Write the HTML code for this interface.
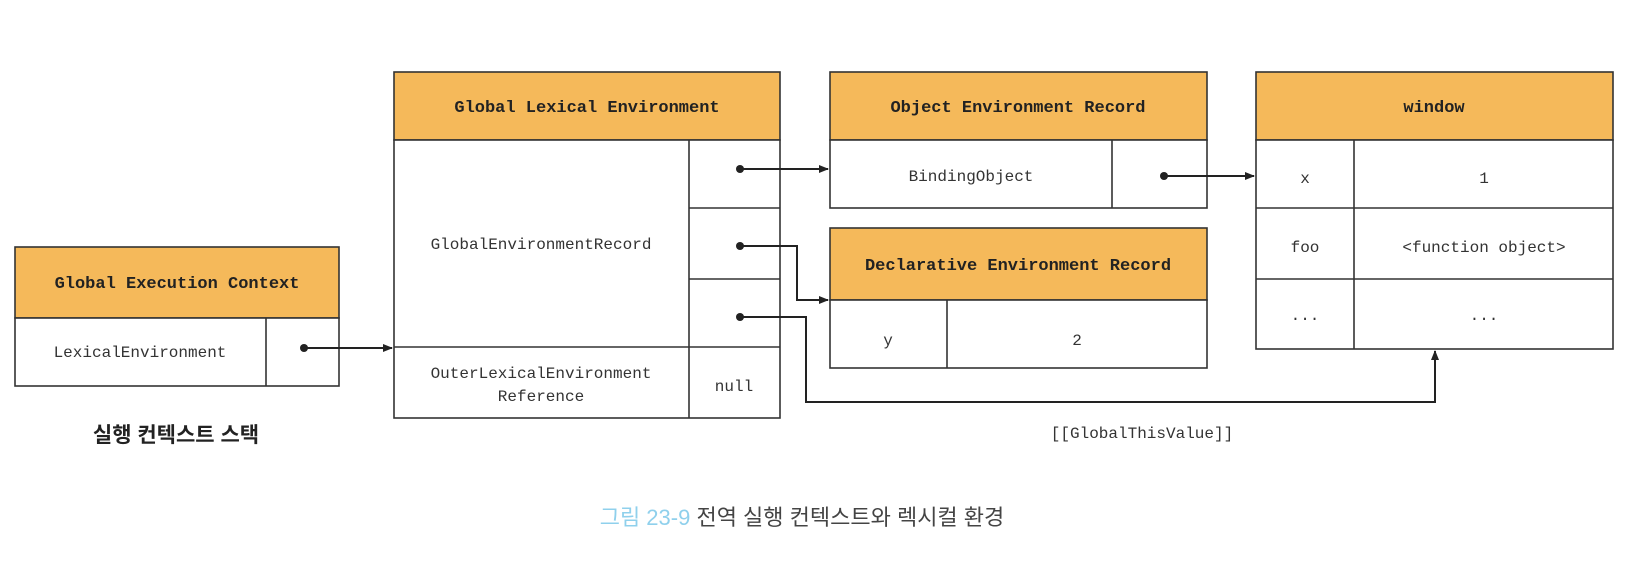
<!DOCTYPE html>
<html><head><meta charset="utf-8"><style>
body{margin:0;background:#fff;width:1650px;height:568px;overflow:hidden;position:relative}
svg{position:absolute;left:0;top:0}
</style></head><body>
<svg width="1650" height="568" xmlns="http://www.w3.org/2000/svg" font-family="'Liberation Mono', monospace" font-size="16" fill="#333">
<defs><marker id="a" markerWidth="10" markerHeight="10" refX="9" refY="5" orient="auto" markerUnits="userSpaceOnUse"><path d="M0,1 L10,5 L0,9 z" fill="#222"/></marker></defs>
<g stroke="#333" stroke-width="1.6">
<!-- GEC -->
<rect x="15" y="247" width="324" height="71" fill="#f5b95a"/>
<rect x="15" y="318" width="324" height="68" fill="#fff"/>
<line x1="266" y1="318" x2="266" y2="386"/>
<!-- GLE -->
<rect x="394" y="72" width="386" height="68" fill="#f5b95a"/>
<rect x="394" y="140" width="386" height="278" fill="#fff"/>
<line x1="689" y1="140" x2="689" y2="418"/>
<line x1="689" y1="208" x2="780" y2="208"/>
<line x1="689" y1="279" x2="780" y2="279"/>
<line x1="394" y1="347" x2="780" y2="347"/>
<!-- OER -->
<rect x="830" y="72" width="377" height="68" fill="#f5b95a"/>
<rect x="830" y="140" width="377" height="68" fill="#fff"/>
<line x1="1112" y1="140" x2="1112" y2="208"/>
<!-- DER -->
<rect x="830" y="228" width="377" height="72" fill="#f5b95a"/>
<rect x="830" y="300" width="377" height="68" fill="#fff"/>
<line x1="947" y1="300" x2="947" y2="368"/>
<!-- window -->
<rect x="1256" y="72" width="357" height="68" fill="#f5b95a"/>
<rect x="1256" y="140" width="357" height="209" fill="#fff"/>
<line x1="1354" y1="140" x2="1354" y2="349"/>
<line x1="1256" y1="208" x2="1613" y2="208"/>
<line x1="1256" y1="279" x2="1613" y2="279"/>
</g>
<g stroke="#222" stroke-width="2" fill="none">
<path d="M304,348 H392" marker-end="url(#a)"/>
<path d="M740,169 H828" marker-end="url(#a)"/>
<path d="M740,246 H797 V300 H828" marker-end="url(#a)"/>
<path d="M740,317 H806 V402 H1435 V351" marker-end="url(#a)"/>
<path d="M1164,176 H1254" marker-end="url(#a)"/>
</g>
<g fill="#222">
<circle cx="304" cy="348" r="4"/><circle cx="740" cy="169" r="4"/><circle cx="740" cy="246" r="4"/><circle cx="740" cy="317" r="4"/><circle cx="1164" cy="176" r="4"/>
</g>
<g font-weight="bold" font-size="17" text-anchor="middle" fill="#222">
<text x="177" y="288">Global Execution Context</text>
<text x="587" y="112">Global Lexical Environment</text>
<text x="1018" y="112">Object Environment Record</text>
<text x="1018" y="270">Declarative Environment Record</text>
<text x="1434" y="112">window</text>
</g>
<g text-anchor="middle">
<text x="140" y="357">LexicalEnvironment</text>
<text x="541" y="249">GlobalEnvironmentRecord</text>
<text x="541" y="378">OuterLexicalEnvironment</text>
<text x="541" y="401">Reference</text>
<text x="734" y="391">null</text>
<text x="971" y="181">BindingObject</text>
<text x="888" y="345">y</text>
<text x="1077" y="345">2</text>
<text x="1305" y="183">x</text>
<text x="1484" y="183">1</text>
<text x="1305" y="252">foo</text>
<text x="1484" y="252">&lt;function object&gt;</text>
<text x="1305" y="320">...</text>
<text x="1484" y="320">...</text>
<text x="1142" y="438">[[GlobalThisValue]]</text>
</g>
<text x="176" y="442" text-anchor="middle" font-family="'Liberation Sans','Noto Sans CJK KR',sans-serif" font-weight="bold" font-size="21" fill="#222">실행 컨텍스트 스택</text>
<text x="802" y="525" text-anchor="middle" font-family="'Liberation Sans','Noto Sans CJK KR',sans-serif" font-size="22"><tspan fill="#8fd0ec">그림 23-9</tspan><tspan fill="#444"> 전역 실행 컨텍스트와 렉시컬 환경</tspan></text>
</svg>
</body></html>
